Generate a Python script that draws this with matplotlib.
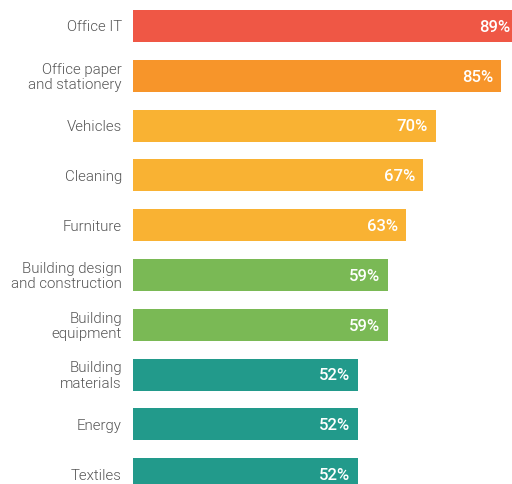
import matplotlib
matplotlib.use("Agg")
import matplotlib.pyplot as plt

# data
categories = ["Office IT", "Office paper\nand stationery", "Vehicles", "Cleaning",
              "Furniture", "Building design\nand construction", "Building\nequipment",
              "Building\nmaterials", "Energy", "Textiles"]
values = [89, 85, 70, 67, 63, 59, 59, 52, 52, 52]
colors = ["#EF5745", "#F7952A", "#F9B233", "#F9B233", "#F9B233",
          "#7AB955", "#7AB955", "#229A8B", "#229A8B", "#229A8B"]

plt.rcParams['font.family'] = ['Roboto', 'DejaVu Sans']

W, H = 512, 484
fig = plt.figure(figsize=(W / 100, H / 100), dpi=100)
# bars start at x=133px, 100% ~ 432px wide (longest bar runs off the right edge)
ax = fig.add_axes([133 / W, 0, 432.6 / W, 1])
ax.set_xlim(0, 100)
# row centres at 26px + 49.8px*i from the top
pitch = 49.8
ax.set_ylim((H - 26) / pitch, -26 / pitch)

ypos = list(range(len(values)))
ax.barh(ypos, values, height=32 / pitch, color=colors, clip_on=False)

for y, v, lab in zip(ypos, values, categories):
    ax.annotate("%d%%" % v, (v, y), xytext=(-5.5, -1), textcoords="offset points",
                ha="right", va="center", color="white", fontsize=12, fontweight=500)
    ax.annotate(lab, (0, y), xytext=(-8, -1), textcoords="offset points",
                ha="right", va="center", color="#555555", fontsize=10.8,
                fontweight=300, linespacing=1.1, annotation_clip=False)

ax.axis("off")
fig.savefig("out.png", dpi=100)
